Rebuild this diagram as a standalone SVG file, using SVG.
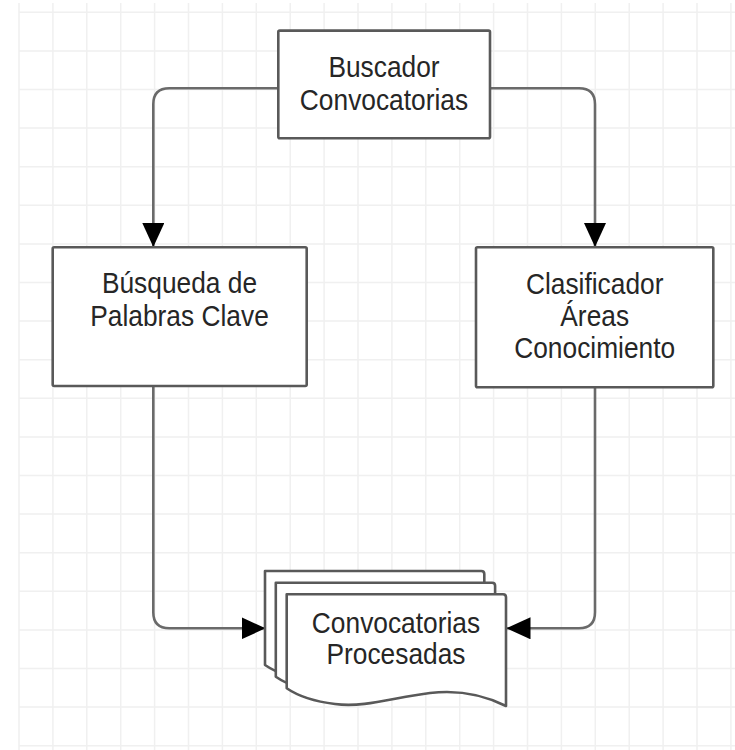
<svg xmlns="http://www.w3.org/2000/svg" xmlns:xlink="http://www.w3.org/1999/xlink" width="735" height="750" viewBox="0 0 735 750">
<style>
.grid{fill:none;stroke:#f0f0f0;stroke-width:1.5}
.box{fill:#ffffff;stroke:#595959;stroke-width:2.6}
.sheet{fill:#ffffff;stroke:#595959;stroke-width:2.6;stroke-linejoin:round}
.lbl{font-family:"Liberation Sans",Arial,sans-serif;font-size:30px;fill:#262626;text-anchor:middle}
.conn{fill:none;stroke:#6a6a6a;stroke-width:2.6}
</style>
<defs>
<marker id="arr" viewBox="0 0 24 22" refX="24" refY="11" markerWidth="24" markerHeight="22" markerUnits="userSpaceOnUse" orient="auto">
<path d="M0,0 L24,11 L0,22 Z" fill="#000"/>
</marker>
<path id="sheet" d="M0,0 H216.3 Q219.3,0 219.3,3 V111.7 C193.3,98.7 168.3,95.7 143.3,98.7 C108.3,102.7 78.3,113.7 48.3,109.7 C23.3,106.7 8.3,99.7 0,94 Z"/>
</defs>
<rect width="735" height="750" fill="#ffffff"/>
<path class="grid" d="M19,3V750M52.9,3V750M86.8,3V750M120.7,3V750M154.6,3V750M188.5,3V750M222.4,3V750M256.3,3V750M290.2,3V750M324.1,3V750M358,3V750M391.9,3V750M425.8,3V750M459.7,3V750M493.6,3V750M527.5,3V750M561.4,3V750M595.3,3V750M629.2,3V750M663.1,3V750M697,3V750M730.9,3V750M19,12.3H735M19,50.9H735M19,89.5H735M19,128.1H735M19,166.7H735M19,205.3H735M19,243.9H735M19,282.5H735M19,321.1H735M19,359.7H735M19,398.3H735M19,436.9H735M19,475.5H735M19,514.1H735M19,552.7H735M19,591.3H735M19,629.9H735M19,668.5H735M19,707.1H735M19,745.7H735"/>
<g id="connectors">
<path class="conn" marker-end="url(#arr)" d="M278,88.3 H169.3 Q153.3,88.3 153.3,104.3 V247"/>
<path class="conn" marker-end="url(#arr)" d="M490,88.3 H579 Q595,88.3 595,104.3 V247"/>
<path class="conn" marker-end="url(#arr)" d="M153.3,386 V612.3 Q153.3,628.3 169.3,628.3 H265.5"/>
<path class="conn" marker-end="url(#arr)" d="M595,387 V612.3 Q595,628.3 579,628.3 H506.5"/>
</g>
<g id="buscador">
<rect class="box" x="278.3" y="30.6" width="211.7" height="107.7" rx="1.5"/>
<text class="lbl" transform="matrix(0.878 0 0 1 384 0)"><tspan x="0" y="76.7">Buscador</tspan><tspan x="0" y="110">Convocatorias</tspan></text>
</g>
<g id="busqueda">
<rect class="box" x="52.7" y="247.3" width="254" height="138.7" rx="1.5"/>
<text class="lbl" transform="matrix(0.878 0 0 1 179.5 0)"><tspan x="0" y="293.3">Búsqueda de</tspan><tspan x="0" y="326">Palabras Clave</tspan></text>
</g>
<g id="clasificador">
<rect class="box" x="476" y="247.3" width="237.3" height="140" rx="1.5"/>
<text class="lbl" transform="matrix(0.878 0 0 1 594.7 0)"><tspan x="0" y="294">Clasificador</tspan><tspan x="0" y="326.5">Áreas</tspan><tspan x="0" y="358">Conocimiento</tspan></text>
</g>
<g id="procesadas">
<use xlink:href="#sheet" class="sheet" transform="translate(265,571)"/>
<use xlink:href="#sheet" class="sheet" transform="translate(275.8,582.7)"/>
<use xlink:href="#sheet" class="sheet" transform="translate(286.7,594.3)"/>
<text class="lbl" transform="matrix(0.878 0 0 1 396 0)"><tspan x="0" y="632.7">Convocatorias</tspan><tspan x="0" y="664">Procesadas</tspan></text>
</g>
</svg>
